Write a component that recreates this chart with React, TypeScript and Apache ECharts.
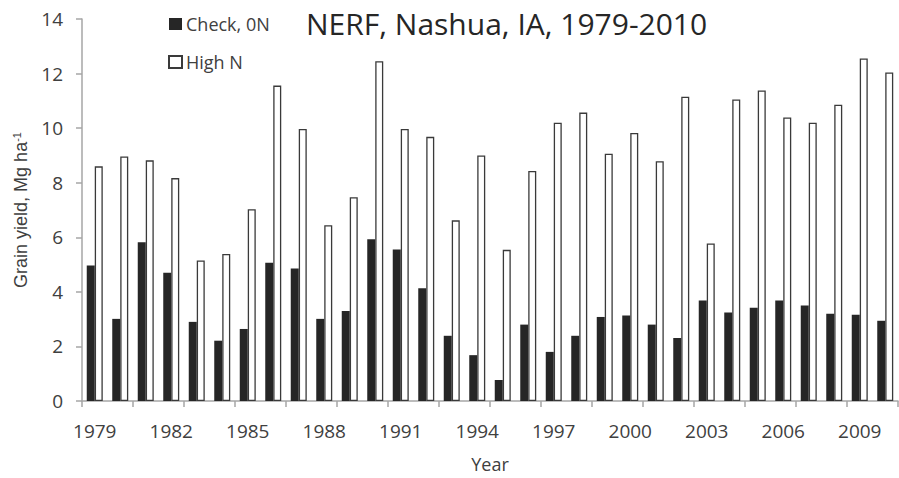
import React, { useEffect, useRef } from "react";
import * as echarts from "echarts";

const years = [
  "1979", "1980", "1981", "1982", "1983", "1984", "1985", "1986", "1987", "1988",
  "1989", "1990", "1991", "1992", "1993", "1994", "1995", "1996", "1997", "1998",
  "1999", "2000", "2001", "2002", "2003", "2004", "2005", "2006", "2007", "2008",
  "2009", "2010",
];

const checkON = [
  4.97, 3.01, 5.82, 4.7, 2.9, 2.21, 2.64, 5.07, 4.86, 3.01,
  3.3, 5.93, 5.55, 4.13, 2.39, 1.68, 0.77, 2.8, 1.8, 2.39,
  3.08, 3.13, 2.8, 2.31, 3.68, 3.24, 3.42, 3.68, 3.5, 3.2,
  3.16, 2.94,
];

const highN = [
  8.6, 8.96, 8.82, 8.17, 5.15, 5.39, 7.03, 11.56, 9.97, 6.44,
  7.47, 12.45, 9.97, 9.68, 6.62, 9.0, 5.54, 8.43, 10.2, 10.57,
  9.06, 9.82, 8.79, 11.15, 5.77, 11.05, 11.38, 10.39, 10.2, 10.86,
  12.55, 12.04,
];

const FONT = "'Open Sans', Lato, sans-serif";
const FONT2 = "'Liberation Sans', Arial, sans-serif";
const TXT = "#404040";
const AXIS = "#a6a6a6";

export default function App() {
  const ref = useRef<HTMLDivElement>(null);
  useEffect(() => {
    if (!ref.current) return;
    const chart = echarts.init(ref.current, null, { renderer: "svg" });
    chart.setOption({
      animation: false,
      backgroundColor: "#ffffff",
      textStyle: { fontFamily: FONT },
      title: {
        text: "NERF, Nashua, IA, 1979-2010",
        left: 306,
        top: 8,
        padding: 0,
        textStyle: { fontFamily: FONT, fontSize: 30, fontWeight: "normal", color: "#262626" },
      },
      legend: {
        orient: "vertical",
        left: 168,
        top: 15,
        padding: 0,
        itemWidth: 13,
        itemHeight: 12,
        itemGap: 20,
        icon: "rect",
        textStyle: { fontFamily: FONT, fontSize: 18, color: TXT, padding: [0, 0, 0, -1] },
        data: ["Check, 0N", "High N"],
      },
      grid: { left: 82, right: 1, top: 19, bottom: 70, containLabel: false },
      xAxis: {
        type: "category",
        data: years,
        boundaryGap: true,
        name: "Year",
        nameLocation: "middle",
        nameGap: 54,
        nameTextStyle: { fontFamily: FONT, fontSize: 18, color: TXT },
        axisLine: { lineStyle: { color: AXIS, width: 1.5 } },
        axisTick: { show: true, interval: 1, length: 6, lineStyle: { color: AXIS, width: 1.5 } },
        axisLabel: { interval: 2, margin: 20, fontFamily: FONT, fontSize: 19, color: TXT },
      },
      yAxis: {
        type: "value",
        min: 0,
        max: 14,
        interval: 2,
        name: "Grain yield, Mg ha{sup|-1}",
        nameLocation: "middle",
        nameGap: 51,
        nameTextStyle: {
          fontFamily: FONT2,
          fontSize: 18,
          color: TXT,
          rich: {
            sup: { fontFamily: FONT2, fontSize: 11, color: TXT, padding: [0, 0, 9, 0] },
          },
        },
        splitLine: { show: false },
        axisLine: { show: true, lineStyle: { color: AXIS, width: 1.5 } },
        axisTick: { show: true, length: 6, lineStyle: { color: AXIS, width: 1.5 } },
        axisLabel: { margin: 19, fontFamily: FONT, fontSize: 19, color: TXT },
      },
      series: [
        {
          name: "Check, 0N",
          type: "bar",
          data: checkON,
          barWidth: 8,
          barGap: "0%",
          itemStyle: { color: "#262626" },
        },
        {
          name: "High N",
          type: "bar",
          data: highN,
          barWidth: 8,
          barGap: "0%",
          itemStyle: { color: "#ffffff", borderColor: "#3a3a3a", borderWidth: 1.3 },
        },
      ],
    });
    return () => chart.dispose();
  }, []);
  return (
    <div
      ref={ref}
      style={{ position: "fixed", left: 0, top: 0, width: 899, height: 478, background: "#fff" }}
    />
  );
}
